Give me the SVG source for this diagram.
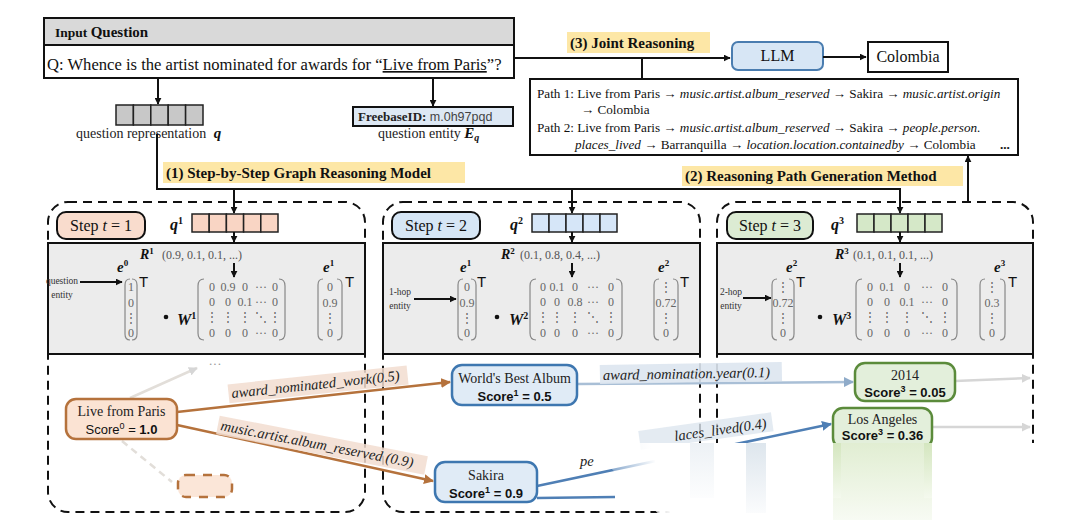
<svg xmlns="http://www.w3.org/2000/svg" width="1080" height="520" viewBox="0 0 1080 520">
<defs>
<style>
.serif{font-family:"Liberation Serif","Times New Roman",serif;}
.ttl{font-family:"Liberation Serif","Times New Roman",serif;font-weight:bold;font-size:15px;fill:#111;}
.hl{fill:#fde7a6;}
.ln{stroke:#111;stroke-width:2;fill:none;}
.dash{stroke:#111;stroke-width:2;fill:none;stroke-dasharray:9 6;}
.gray{fill:#ececec;stroke:#111;stroke-width:2;}
.mat{font-family:"Liberation Serif","Times New Roman",serif;font-size:12px;fill:#666;text-anchor:middle;}
.br{stroke:#888;stroke-width:1.2;fill:none;}
.sm{font-family:"Liberation Serif","Times New Roman",serif;font-size:9.5px;fill:#333;text-anchor:middle;}
.bi{font-family:"Liberation Serif","Times New Roman",serif;font-weight:bold;font-style:italic;fill:#111;}
.up{font-style:normal;}
.tt{font-family:"Liberation Sans",Arial,sans-serif;font-size:15px;fill:#111;}
.rv{font-family:"Liberation Serif","Times New Roman",serif;font-size:12px;fill:#555;}
.nt{font-family:"Liberation Serif","Times New Roman",serif;font-size:14px;fill:#222;text-anchor:middle;}
.sc{font-family:"Liberation Sans",Arial,sans-serif;font-size:13px;fill:#111;text-anchor:middle;}
.el{font-family:"Liberation Serif","Times New Roman",serif;font-style:italic;font-size:14.5px;fill:#222;}
.pt{font-family:"Liberation Serif","Times New Roman",serif;font-size:13.2px;fill:#111;}
.step{font-family:"Liberation Serif","Times New Roman",serif;font-size:16px;fill:#111;}
.cell{stroke:#222;stroke-width:1.5;}
</style>
<marker id="ah" viewBox="0 0 10 10" refX="9" refY="5" markerWidth="7" markerHeight="7" markerUnits="userSpaceOnUse" orient="auto"><path d="M0,0 L10,5 L0,10 z" fill="#111"/></marker>
<marker id="ahO" viewBox="0 0 10 10" refX="9" refY="5" markerWidth="10" markerHeight="10" markerUnits="userSpaceOnUse" orient="auto"><path d="M0,0 L10,5 L0,10 z" fill="#b5723c"/></marker>
<marker id="ahB" viewBox="0 0 10 10" refX="9" refY="5" markerWidth="10" markerHeight="10" markerUnits="userSpaceOnUse" orient="auto"><path d="M0,0 L10,5 L0,10 z" fill="#8fabc9"/></marker>
<marker id="ahD" viewBox="0 0 10 10" refX="9" refY="5" markerWidth="10" markerHeight="10" markerUnits="userSpaceOnUse" orient="auto"><path d="M0,0 L10,5 L0,10 z" fill="#4f7fb5"/></marker>
<marker id="ahG" viewBox="0 0 10 10" refX="9" refY="5" markerWidth="9" markerHeight="9" markerUnits="userSpaceOnUse" orient="auto"><path d="M0,0 L10,5 L0,10 z" fill="#d6d6d6"/></marker>
<linearGradient id="fadeL" gradientUnits="userSpaceOnUse" x1="592" y1="478" x2="655" y2="458"><stop offset="0" stop-color="#fff" stop-opacity="0"/><stop offset="1" stop-color="#fff" stop-opacity="1"/></linearGradient>
<linearGradient id="greenS" x1="0" y1="0" x2="0" y2="1"><stop offset="0" stop-color="#d4e6bf"/><stop offset="1" stop-color="#f4f9ee"/></linearGradient>
<linearGradient id="blueS" x1="0" y1="0" x2="0" y2="1"><stop offset="0" stop-color="#c2d1de"/><stop offset="1" stop-color="#f7f9fb"/></linearGradient>
</defs>
<rect width="1080" height="520" fill="#fff"/>

<g id="input-question">
<rect x="44" y="18" width="470" height="60" fill="#fff" stroke="#111" stroke-width="2"/>
<rect x="44" y="18" width="470" height="27" fill="#d9d9d9" stroke="#111" stroke-width="2"/>
<text x="55" y="37" class="serif" font-weight="bold" fill="#111"><tspan font-size="13.5">Input </tspan><tspan font-size="15">Question</tspan></text>
<text x="47" y="70" class="serif" font-size="16.6" fill="#111">Q: Whence is the artist nominated for awards for “<tspan text-decoration="underline">Live from Paris</tspan>”?</text>
</g>

<g id="question-representation">
<rect x="116" y="105" width="17.4" height="20" fill="#c8c8c8" class="cell"/>
<rect x="133.4" y="105" width="17.4" height="20" fill="#c8c8c8" class="cell"/>
<rect x="150.8" y="105" width="17.4" height="20" fill="#c8c8c8" class="cell"/>
<rect x="168.2" y="105" width="17.4" height="20" fill="#c8c8c8" class="cell"/>
<rect x="185.6" y="105" width="17.4" height="20" fill="#c8c8c8" class="cell"/>
<text x="76" y="138" class="serif" font-size="14" fill="#222">question representation <tspan class="bi" font-size="15" dx="4">q</tspan></text>
</g>

<g id="question-entity">
<rect x="353" y="107" width="160" height="19" fill="#dde8f4" stroke="#111" stroke-width="2"/>
<text x="358" y="121" font-size="13" fill="#222"><tspan class="serif" font-weight="bold">FreebaseID:</tspan><tspan font-family="Liberation Sans, Arial, sans-serif" font-size="12.5" fill="#444"> m.0h97pqd</tspan></text>
<text x="378" y="138" class="serif" font-size="14" fill="#222">question entity <tspan class="bi" font-size="15">E</tspan><tspan class="bi" font-size="10" dy="3">q</tspan></text>
</g>

<g id="joint-reasoning">
<rect x="567" y="32" width="143" height="21" class="hl"/>
<text x="570" y="48" class="ttl">(3) Joint Reasoning</text>
</g>

<g id="llm">
<rect x="732" y="42" width="91" height="28" rx="6" fill="#d7e6f5" stroke="#4a7db0" stroke-width="2"/>
<text x="777.5" y="61" class="serif" font-size="16" fill="#111" text-anchor="middle">LLM</text>
</g>

<g id="answer">
<rect x="868" y="42" width="80" height="30" fill="#fff" stroke="#111" stroke-width="2"/>
<text x="908" y="62" class="serif" font-size="16" fill="#111" text-anchor="middle">Colombia</text>
</g>

<g id="paths">
<rect x="530" y="79" width="488" height="76" fill="#fff" stroke="#111" stroke-width="2"/>
<text x="537" y="98" class="pt">Path 1: Live from Paris → <tspan font-style="italic">music.artist.album_reserved</tspan> → Sakira → <tspan font-style="italic">music.artist.origin</tspan></text>
<text x="581" y="114" class="pt">→ Colombia</text>
<text x="537" y="132" class="pt">Path 2: Live from Paris → <tspan font-style="italic">music.artist.album_reserved</tspan> → Sakira → <tspan font-style="italic">people.person.</tspan></text>
<text x="575" y="149" class="pt"><tspan font-style="italic">places_lived</tspan> → Barranquilla →  <tspan font-style="italic">location.location.containedby</tspan> → Colombia</text>
<text x="1000" y="149" class="pt" font-weight="bold">...</text>
</g>

<g id="step-model-title">
<rect x="163" y="162" width="302" height="21" class="hl"/>
<text x="166" y="178" class="ttl">(1) Step-by-Step Graph Reasoning Model</text>
</g>

<g id="path-gen-title">
<rect x="682" y="166" width="281" height="20" class="hl"/>
<text x="685" y="181" class="ttl">(2) Reasoning Path Generation Method</text>
</g>

<g id="panel-1">
<rect x="48" y="202" width="317" height="310" rx="20" class="dash"/>
<rect x="57" y="212" width="88" height="27" rx="9" fill="#f9dccd" stroke="#111" stroke-width="2"/>
<text x="101" y="231" class="step" text-anchor="middle">Step <tspan font-style="italic">t</tspan> = 1</text>
<text x="170" y="230" class="bi" font-size="16">q<tspan class="up" font-size="10" dy="-6">1</tspan></text>
<rect x="192" y="214" width="17.2" height="18" fill="#f9d5c4" class="cell"/>
<rect x="209.2" y="214" width="17.2" height="18" fill="#f9d5c4" class="cell"/>
<rect x="226.4" y="214" width="17.2" height="18" fill="#f9d5c4" class="cell"/>
<rect x="243.6" y="214" width="17.2" height="18" fill="#f9d5c4" class="cell"/>
<rect x="260.8" y="214" width="17.2" height="18" fill="#f9d5c4" class="cell"/>
<rect x="48" y="243" width="317" height="111" class="gray"/>
<text x="140" y="259" class="bi" font-size="14">R<tspan class="up" font-size="9" dy="-5">1</tspan></text>
<text x="162" y="259" class="rv">(0.9, 0.1, 0.1, ...)</text>
<text x="117" y="272" class="bi" font-size="15">e<tspan class="up" font-size="9" dy="-6">0</tspan></text>
<text x="62" y="284" class="sm">question</text>
<text x="62" y="298" class="sm">entity</text>
<line x1="80" y1="282" x2="122" y2="282" class="ln" stroke-width="1.2" marker-end="url(#ah)"/>
<path d="M130,279 Q125,279 125,285 V334 Q125,340 130,340 M132,279 Q137,279 137,285 V334 Q137,340 132,340" class="br"/>
<text x="131" y="291" class="mat" fill="#111">1</text>
<text x="131" y="307" class="mat">0</text>
<text x="131" y="322" class="mat">⋮</text>
<text x="131" y="337" class="mat">0</text>
<text x="139" y="287" class="tt">T</text>
<circle cx="166" cy="317" r="2.3" fill="#111"/>
<text x="177" y="325" class="bi" font-size="16">W<tspan class="up" font-size="10" dy="-6">1</tspan></text>
<path d="M204,279 Q198,279 198,286 V333 Q198,340 204,340 M279,279 Q285,279 285,286 V333 Q285,340 279,340" class="br"/>
<g class="mat">
<text x="212" y="291">0</text><text x="228" y="291">0.9</text><text x="245" y="291">0</text><text x="261" y="291">···</text><text x="275" y="291">0</text>
<text x="212" y="306">0</text><text x="228" y="306">0</text><text x="245" y="306">0.1</text><text x="261" y="306">···</text><text x="275" y="306">0</text>
<text x="212" y="321">⋮</text><text x="228" y="321">⋮</text><text x="245" y="321">⋮</text><text x="261" y="321">⋱</text><text x="275" y="321">⋮</text>
<text x="212" y="337">0</text><text x="228" y="337">0</text><text x="245" y="337">0</text><text x="261" y="337">···</text><text x="275" y="337">0</text>
</g>
<text x="323" y="272" class="bi" font-size="15">e<tspan class="up" font-size="9" dy="-6">1</tspan></text>
<path d="M323,279 Q318,279 318,285 V334 Q318,340 323,340 M337,279 Q342,279 342,285 V334 Q342,340 337,340" class="br"/>
<text x="330" y="291" class="mat">0</text>
<text x="330" y="307" class="mat">0.9</text>
<text x="330" y="322" class="mat">⋮</text>
<text x="330" y="337" class="mat">0</text>
<text x="345" y="287" class="tt">T</text>
</g>

<g id="panel-2">
<rect x="383" y="202" width="317" height="310" rx="20" class="dash"/>
<rect x="392" y="212" width="88" height="27" rx="9" fill="#d6e6f5" stroke="#111" stroke-width="2"/>
<text x="436" y="231" class="step" text-anchor="middle">Step <tspan font-style="italic">t</tspan> = 2</text>
<text x="510" y="230" class="bi" font-size="16">q<tspan class="up" font-size="10" dy="-6">2</tspan></text>
<rect x="532" y="214" width="17" height="18" fill="#d6e6f8" class="cell"/>
<rect x="549" y="214" width="17" height="18" fill="#d6e6f8" class="cell"/>
<rect x="566" y="214" width="17" height="18" fill="#d6e6f8" class="cell"/>
<rect x="583" y="214" width="17" height="18" fill="#d6e6f8" class="cell"/>
<rect x="600" y="214" width="17" height="18" fill="#d6e6f8" class="cell"/>
<rect x="383" y="243" width="317" height="111" class="gray"/>
<text x="501" y="259" class="bi" font-size="14">R<tspan class="up" font-size="9" dy="-5">2</tspan></text>
<text x="520" y="259" class="rv">(0.1, 0.8, 0.4, ...)</text>
<text x="460" y="272" class="bi" font-size="15">e<tspan class="up" font-size="9" dy="-6">1</tspan></text>
<text x="400" y="295" class="sm">1-hop</text>
<text x="400" y="309" class="sm">entity</text>
<line x1="414" y1="299" x2="456" y2="299" class="ln" stroke-width="1.2" marker-end="url(#ah)"/>
<path d="M463,279 Q458,279 458,285 V334 Q458,340 463,340 M471,279 Q476,279 476,285 V334 Q476,340 471,340" class="br"/>
<text x="467" y="291" class="mat">0</text>
<text x="467" y="307" class="mat">0.9</text>
<text x="467" y="322" class="mat">⋮</text>
<text x="467" y="337" class="mat">0</text>
<text x="477" y="287" class="tt">T</text>
<circle cx="497" cy="317" r="2.3" fill="#111"/>
<text x="509" y="325" class="bi" font-size="16">W<tspan class="up" font-size="10" dy="-6">2</tspan></text>
<path d="M536,279 Q530,279 530,286 V333 Q530,340 536,340 M616,279 Q622,279 622,286 V333 Q622,340 616,340" class="br"/>
<g class="mat">
<text x="543" y="291">0</text><text x="557" y="291">0.1</text><text x="575" y="291">0</text><text x="593" y="291">···</text><text x="611" y="291">0</text>
<text x="543" y="306">0</text><text x="557" y="306">0</text><text x="575" y="306">0.8</text><text x="593" y="306">···</text><text x="611" y="306">0</text>
<text x="543" y="321">⋮</text><text x="557" y="321">⋮</text><text x="575" y="321">⋮</text><text x="593" y="321">⋱</text><text x="611" y="321">⋮</text>
<text x="543" y="337">0</text><text x="557" y="337">0</text><text x="575" y="337">0</text><text x="593" y="337">···</text><text x="611" y="337">0</text>
</g>
<text x="658" y="272" class="bi" font-size="15">e<tspan class="up" font-size="9" dy="-6">2</tspan></text>
<path d="M659,279 Q654,279 654,285 V334 Q654,340 659,340 M673,279 Q678,279 678,285 V334 Q678,340 673,340" class="br"/>
<text x="666" y="291" class="mat">⋮</text>
<text x="666" y="307" class="mat">0.72</text>
<text x="666" y="322" class="mat">⋮</text>
<text x="666" y="337" class="mat">0</text>
<text x="680" y="287" class="tt">T</text>
</g>

<g id="panel-3">
<rect x="717" y="202" width="316" height="310" rx="20" class="dash"/>
<rect x="727" y="212" width="86" height="27" rx="9" fill="#dcebd3" stroke="#111" stroke-width="2"/>
<text x="770" y="231" class="step" text-anchor="middle">Step <tspan font-style="italic">t</tspan> = 3</text>
<text x="831" y="230" class="bi" font-size="16">q<tspan class="up" font-size="10" dy="-6">3</tspan></text>
<rect x="857" y="214" width="17" height="18" fill="#d5e8c8" class="cell"/>
<rect x="874" y="214" width="17" height="18" fill="#d5e8c8" class="cell"/>
<rect x="891" y="214" width="17" height="18" fill="#d5e8c8" class="cell"/>
<rect x="908" y="214" width="17" height="18" fill="#d5e8c8" class="cell"/>
<rect x="925" y="214" width="17" height="18" fill="#d5e8c8" class="cell"/>
<rect x="717" y="243" width="316" height="111" class="gray"/>
<text x="835" y="259" class="bi" font-size="14">R<tspan class="up" font-size="9" dy="-5">3</tspan></text>
<text x="853" y="259" class="rv">(0.1, 0.1, 0.1, ...)</text>
<text x="786" y="272" class="bi" font-size="15">e<tspan class="up" font-size="9" dy="-6">2</tspan></text>
<text x="731" y="295" class="sm">2-hop</text>
<text x="731" y="309" class="sm">entity</text>
<line x1="743" y1="298" x2="771" y2="298" class="ln" stroke-width="1.2" marker-end="url(#ah)"/>
<path d="M777,279 Q772,279 772,285 V334 Q772,340 777,340 M789,279 Q794,279 794,285 V334 Q794,340 789,340" class="br"/>
<text x="783" y="291" class="mat">⋮</text>
<text x="783" y="307" class="mat">0.72</text>
<text x="783" y="322" class="mat">⋮</text>
<text x="783" y="337" class="mat">0</text>
<text x="796" y="287" class="tt">T</text>
<circle cx="820" cy="317" r="2.3" fill="#111"/>
<text x="832" y="325" class="bi" font-size="16">W<tspan class="up" font-size="10" dy="-6">3</tspan></text>
<path d="M862,279 Q856,279 856,286 V333 Q856,340 862,340 M951,279 Q957,279 957,286 V333 Q957,340 951,340" class="br"/>
<g class="mat">
<text x="870" y="291">0</text><text x="887" y="291">0.1</text><text x="907" y="291">0</text><text x="927" y="291">···</text><text x="945" y="291">0</text>
<text x="870" y="306">0</text><text x="887" y="306">0</text><text x="907" y="306">0.1</text><text x="927" y="306">···</text><text x="945" y="306">0</text>
<text x="870" y="321">⋮</text><text x="887" y="321">⋮</text><text x="907" y="321">⋮</text><text x="927" y="321">⋱</text><text x="945" y="321">⋮</text>
<text x="870" y="337">0</text><text x="887" y="337">0</text><text x="907" y="337">0</text><text x="927" y="337">···</text><text x="945" y="337">0</text>
</g>
<text x="994" y="272" class="bi" font-size="15">e<tspan class="up" font-size="9" dy="-6">3</tspan></text>
<path d="M985,279 Q980,279 980,285 V334 Q980,340 985,340 M1000,279 Q1005,279 1005,285 V334 Q1005,340 1000,340" class="br"/>
<text x="992" y="291" class="mat">⋮</text>
<text x="992" y="307" class="mat">0.3</text>
<text x="992" y="322" class="mat">⋮</text>
<text x="992" y="337" class="mat">0</text>
<text x="1008" y="287" class="tt">T</text>
</g>

<g id="connectors">
<polyline points="514,58 730,58" class="ln" marker-end="url(#ah)"/>
<line x1="642" y1="58" x2="642" y2="79" class="ln"/>
<line x1="823" y1="57" x2="866" y2="57" class="ln" marker-end="url(#ah)"/>
<line x1="158" y1="78" x2="158" y2="104" class="ln" marker-end="url(#ah)"/>
<line x1="433" y1="78" x2="433" y2="106" class="ln" marker-end="url(#ah)"/>
<polyline points="157,134 157,189 900,189 900,213" class="ln" marker-end="url(#ah)"/>
<line x1="234" y1="189" x2="234" y2="213" class="ln" marker-end="url(#ah)"/>
<line x1="572" y1="189" x2="572" y2="213" class="ln" marker-end="url(#ah)"/>
<line x1="968" y1="202" x2="968" y2="156" class="ln" marker-end="url(#ah)"/>
<line x1="234" y1="232" x2="234" y2="242" class="ln" stroke-width="1.5" marker-end="url(#ah)"/>
<line x1="572" y1="232" x2="572" y2="242" class="ln" stroke-width="1.5" marker-end="url(#ah)"/>
<line x1="900" y1="232" x2="900" y2="242" class="ln" stroke-width="1.5" marker-end="url(#ah)"/>
<line x1="234" y1="263" x2="234" y2="277" class="ln" stroke-width="1.3" marker-end="url(#ah)"/>
<line x1="572" y1="263" x2="572" y2="277" class="ln" stroke-width="1.3" marker-end="url(#ah)"/>
<line x1="900" y1="263" x2="900" y2="277" class="ln" stroke-width="1.3" marker-end="url(#ah)"/>

<line x1="130" y1="398" x2="197" y2="368" stroke="#e2ded9" stroke-width="2.5" marker-end="url(#ahG)"/>
<text x="215" y="368" class="serif" font-size="13" fill="#999" text-anchor="middle">···</text>
<line x1="122" y1="441" x2="172" y2="482" stroke="#e2ded9" stroke-width="2.5" stroke-dasharray="7 5"/>

<line x1="177" y1="412" x2="450" y2="382" stroke="#b5723c" stroke-width="2.5" marker-end="url(#ahO)"/>
<g transform="rotate(-6 232 398)">
<rect x="229" y="384" width="180" height="19" fill="#f2ddd0" opacity="0.85"/>
<text x="232" y="398" class="el">award_nominated_work(0.5)</text>
</g>
<line x1="177" y1="425" x2="433" y2="481" stroke="#b5723c" stroke-width="2.5" marker-end="url(#ahO)"/>
<g transform="rotate(11 220 430)">
<rect x="217" y="416" width="212" height="19" fill="#f2ddd0" opacity="0.85"/>
<text x="220" y="430" class="el">music.artist.album_reserved (0.9)</text>
</g>

<line x1="577" y1="384" x2="853" y2="382" stroke="#a9bfd6" stroke-width="2.5" marker-end="url(#ahB)"/>
<g transform="rotate(-1 603 380)">
<rect x="600" y="365" width="182" height="19" fill="#dde6ef" opacity="0.9"/>
<text x="603" y="380" class="el">award_nomination.year(0.1)</text>
</g>

<line x1="537" y1="486" x2="831" y2="424" stroke="#4f7fb5" stroke-width="2.5" marker-end="url(#ahD)"/>
<line x1="537" y1="498" x2="615" y2="497" stroke="#4f7fb5" stroke-width="2.5"/>
<text x="580" y="466" class="el">pe</text>
<g transform="rotate(-8 675 441)">
<rect x="640" y="426" width="134" height="19" fill="#dde6ef" opacity="0.8"/>
<text x="675" y="441" class="el">laces_lived(0.4)</text>
</g>

<line x1="955" y1="381" x2="1030" y2="378" stroke="#d6d6d6" stroke-width="2.5" marker-end="url(#ahG)"/>
<line x1="932" y1="427" x2="1030" y2="427" stroke="#d6d6d6" stroke-width="2.5" marker-end="url(#ahG)"/>
</g>

<g id="node-live-from-paris">
<rect x="66" y="399" width="111" height="40" rx="10" fill="#fbe3d3" stroke="#b5723c" stroke-width="2.5"/>
<text x="121.5" y="416" class="nt">Live from Paris</text>
<text x="121.5" y="434" class="sc">Score<tspan font-size="9" dy="-5">0</tspan><tspan dy="5"> = </tspan><tspan font-weight="bold">1.0</tspan></text>
</g>
<g id="node-dots">
<rect x="178" y="475" width="54" height="22" rx="8" fill="#fbe6d8" stroke="#b5723c" stroke-width="2.5" stroke-dasharray="9 8"/>
</g>
<g id="node-worlds-best-album">
<rect x="452" y="365" width="125" height="40" rx="10" fill="#e0ebf6" stroke="#3e77b0" stroke-width="2.5"/>
<text x="514.5" y="383" class="nt">World's Best Album</text>
<text x="514.5" y="401" class="sc" font-weight="bold">Score<tspan font-size="9" dy="-5">1</tspan><tspan dy="5"> = 0.5</tspan></text>
</g>
<g id="node-sakira">
<rect x="435" y="462" width="102" height="40" rx="10" fill="#e0ebf6" stroke="#3e77b0" stroke-width="2.5"/>
<text x="486" y="480" class="nt">Sakira</text>
<text x="486" y="498" class="sc" font-weight="bold">Score<tspan font-size="9" dy="-5">1</tspan><tspan dy="5"> = 0.9</tspan></text>
</g>
<g id="node-2014">
<rect x="855" y="363" width="100" height="38" rx="10" fill="#e3efdb" stroke="#5b8b3b" stroke-width="2.5"/>
<text x="905" y="380" class="nt">2014</text>
<text x="905" y="397" class="sc" font-weight="bold">Score<tspan font-size="9" dy="-5">3</tspan><tspan dy="5"> = 0.05</tspan></text>
</g>
<g id="node-los-angeles">
<rect x="833" y="408" width="99" height="40" rx="10" fill="#e3efdb" stroke="#5b8b3b" stroke-width="2.5"/>
<text x="882.5" y="424" class="nt">Los Angeles</text>
<text x="882.5" y="440" class="sc" font-weight="bold">Score<tspan font-size="9" dy="-5">3</tspan><tspan dy="5"> = 0.36</tspan></text>
</g>

<polygon points="592,450 640,443 1080,443 1080,520 665,520" fill="url(#fadeL)"/>
<polygon points="650,444 1080,444 1080,520 672,520" fill="#fff"/>
<rect x="833" y="443" width="99" height="77" fill="url(#greenS)" opacity="0.7"/>
<rect x="833" y="443" width="8" height="55" fill="url(#greenS)"/>
<rect x="924" y="443" width="8" height="55" fill="url(#greenS)"/>
<rect x="746" y="443" width="20" height="70" fill="url(#blueS)" opacity="0.55"/>
<rect x="690" y="443" width="24" height="55" fill="url(#blueS)" opacity="0.3"/>
</svg>
